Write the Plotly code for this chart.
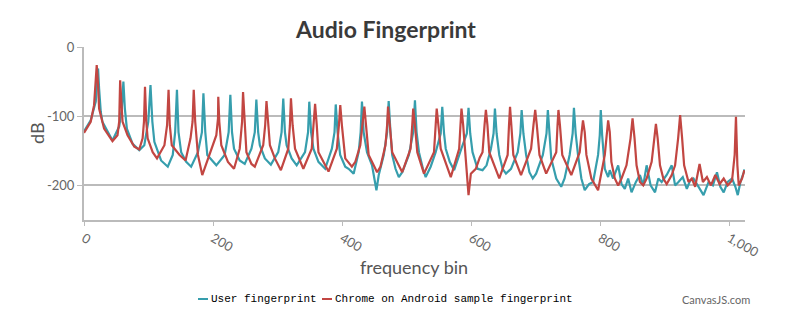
import plotly.graph_objects as go

# ---- data (frequency bin, dB) ----
user_bin = [0, 10.4, 18.2, 20.2, 21.8, 23.4, 26, 28.5, 38.9, 44.1, 54.5, 58.6, 61, 63.3, 66.4, 75.3, 85.6, 93.4,
            99.6, 103, 105.9, 109, 119.4, 129.8, 137.5, 141.2, 144, 146.4, 150.5, 158.3, 166, 176.5, 182.7, 185,
            187.9, 191, 205, 217.9, 224.1, 226.7, 229.3, 232.4, 241.2, 249, 259.4, 264.6, 267, 269.8, 272.4,
            280.2, 289.5, 300.9, 306.1, 308.7, 311.3, 313.9, 321.7, 329.5, 342.4, 347.1, 349, 351.8, 355.4,
            363.2, 373.6, 384, 388.1, 390, 392.8, 396.9, 404.7, 409.9, 417.7, 425.5, 428.6, 430.6, 433.2, 438.4,
            446.2, 450.4, 453, 456.6, 464.4, 469.6, 472, 474.8, 477.4, 482.6, 487.7, 493, 503.3, 510, 512.7,
            515.2, 518.9, 525.1, 529.3, 537, 544.8, 552.6, 555, 557.8, 560.4, 566.6, 573.4, 586.4, 593.1, 595.7,
            598.3, 601.9, 609.7, 617.4, 623.6, 630.4, 634.5, 636.6, 639.2, 643.3, 648.5, 653.7, 661.5, 671.9,
            676, 678, 680.7, 684.9, 690, 695.2, 700.4, 710.8, 716.5, 718.6, 721.2, 723.8, 731.6, 739.3, 744.5,
            752.3, 757, 759, 761.7, 765.3, 770.5, 775.7, 782.4, 788.7, 796.4, 799, 800.6, 802.7, 806.8, 812,
            814.5, 819.7, 827.5, 832.7, 837.8, 843, 848.2, 855, 861.2, 866.4, 871.6, 877.8, 884.6, 889.7, 894.9,
            902.7, 910.5, 915.7, 920.9, 927.6, 933.9, 939, 944.2, 952, 959.8, 967.6, 974.3, 980.6, 985.8, 991,
            997.2, 1003.9, 1009.1, 1012.8, 1016.9, 1022.1, 1023]
user_db = [-122, -106, -79, -50, -31, -60, -94, -108, -127.5, -135, -115, -89, -50, -89, -118, -140, -149, -142,
           -108, -55, -108, -137, -164, -173, -156, -123, -62, -123, -152, -166, -173, -152, -123, -67,
           -123, -156, -171, -156, -123, -69, -123, -147, -164, -169, -147, -123, -76, -123, -142,
           -161, -170, -152, -123, -74.5, -123, -142, -161, -171, -152, -123, -79, -123, -147,
           -166, -176, -147, -123, -83, -123, -156, -173, -176, -183, -152, -123, -79, -123, -152,
           -171, -190, -207, -185, -156, -123, -78, -123, -156, -176, -188, -181, -156, -123, -77,
           -123, -152, -176, -188, -173, -152, -125, -86.5, -125, -147, -166, -178, -142, -125, -88,
           -125, -152, -176, -178, -171, -147, -125, -89, -125, -156, -176, -183, -176, -152,
           -125, -91, -125, -156, -181, -190, -183, -156, -125, -91, -125, -161, -190, -202, -190,
           -156, -125, -88, -125, -156, -190, -207, -198, -195, -156, -127.5, -91, -127.5, -176, -188,
           -178, -190, -171, -198, -205, -190, -210, -195, -185, -200, -171, -200, -210, -190, -195,
           -185, -171, -200, -195, -188, -205, -193, -190, -202, -214, -195, -200, -181, -202, -210,
           -195, -190, -202, -214, -195, -181, -177]

chrome_bin = [0, 10.4, 15.6, 18.2, 19.7, 21.8, 23.4, 31.1, 44.1, 51.9, 54.5, 56, 58.1, 59.7, 67.5, 77.9, 85.6,
              90.8, 92.9, 94.5, 96.5, 98.6, 106.4, 113.1, 124.6, 128.7, 131, 132.9, 136, 148, 157.3, 165, 168.2,
              170, 172.3, 176.5, 183.2, 194.6, 205, 207.6, 208, 209.6, 212.7, 223, 232.4, 241.2, 244.9, 246.4,
              249, 251.6, 259.4, 264.6, 277.6, 280.7, 282.7, 285.3, 288, 295.7, 305, 316.5, 319, 320.6, 323.2,
              326.9, 339.8, 352.8, 356, 358, 360.6, 363.2, 378.8, 391.7, 394.9, 397, 399.5, 404.7, 415, 420.3,
              428, 431.7, 434.3, 436.9, 441, 448.8, 454, 459.2, 467, 469.6, 471, 473.7, 477.4, 493, 505.9, 508.5,
              510, 512.7, 516.3, 526.7, 542.2, 544.8, 546.4, 549, 552.6, 568.2, 581.2, 583.2, 584.8, 587.4,
              590.5, 595.7, 599.3, 607, 613, 617.4, 620.5, 622.6, 625, 627.8, 643.3, 656.3, 658.4, 660, 662,
              665.1, 677, 692.6, 696.3, 699, 701.5, 705.6, 716, 731.6, 733.6, 735, 737.3, 740.9, 754.9, 767.9,
              771, 773, 775.7, 778.3, 786, 796.4, 806.8, 810, 812, 814.5, 817, 822.3, 827.5, 832.7, 840.4,
              846.7, 849.8, 852.9, 856, 861.2, 866.4, 871.6, 879.4, 883.5, 886, 888.7, 892.3, 897.5, 902.7,
              910.5, 915.7, 920.4, 923.5, 926.6, 929.7, 936.5, 941.6, 946.8, 953.6, 958.8, 965, 971.2, 978,
              984.7, 991, 997.2, 1003.9, 1008, 1010, 1012.2, 1014.3, 1019.5, 1023]
chrome_db = [-124, -108, -84, -41, -26, -55, -89, -118, -136, -127.5, -108, -48, -84, -108, -127.5, -144, -148,
             -132, -108, -57.5, -108, -132, -152, -161, -142, -113, -62, -113, -142, -156, -164, -132, -108,
             -62, -108, -156, -185, -156, -127.5, -103, -72, -108, -142, -166, -176, -147, -108, -65,
             -108, -152, -169, -173, -142, -113, -78, -113, -142, -161, -178, -147, -113, -74, -113,
             -147, -176, -147, -113, -82, -113, -152, -180, -147, -113, -84, -113, -161, -173, -166,
             -142, -113, -86, -113, -156, -171, -181, -173, -142, -113, -86, -113, -152, -181, -147, -113,
             -89, -113, -152, -183, -152, -113, -89, -113, -147, -188, -147, -113, -89, -113,
             -156, -214, -183, -176, -160, -152, -113, -91, -113, -152, -190, -156, -113, -86.5, -113,
             -156, -185, -147, -113, -91, -113, -156, -183, -152, -113, -91, -113, -156, -185, -152,
             -123, -106, -123, -156, -190, -207, -156, -123, -106, -123, -166, -190, -200, -190, -171,
             -132, -103, -132, -171, -195, -200, -190, -166, -132, -111, -132, -171, -190, -198,
             -185, -171, -132, -98.5, -132, -171, -195, -190, -202, -169, -195, -188, -200, -185,
             -198, -190, -200, -193, -156, -101, -171, -200, -190, -178]

x_tickvals = [0, 200, 400, 600, 800, 1000]
x_ticktext = ["0", "200", "400", "600", "800", "1,000"]
y_tickvals = [0, -100, -200]
y_ticktext = ["0", "-100", "-200"]

TEAL = "#369EAD"
RED = "#C24642"
GRID = "#BBBBBB"

fig = go.Figure()
fig.add_trace(go.Scatter(x=user_bin, y=user_db, mode="lines", name="User fingerprint",
                         line=dict(color=TEAL, width=2.2), showlegend=False))
fig.add_trace(go.Scatter(x=chrome_bin, y=chrome_db, mode="lines", name="Chrome on Android sample fingerprint",
                         line=dict(color=RED, width=2.2), showlegend=False))

W, H = 803, 321
L, R, T, B = 84, 58, 47, 101
pw, ph = W - L - R, H - T - B

def px2paper(x, y):
    return (x - L) / pw, (H - B - y) / ph

shapes = []
annotations = []
legend_font = dict(family="Liberation Mono, Courier New, monospace", size=11, color="#000000")
for (x0, x1, tx, label, col) in [(198, 208, 209, "User fingerprint", TEAL),
                                 (322, 332, 333, "Chrome on Android sample fingerprint", RED)]:
    a0, yy = px2paper(x0, 299)
    a1, _ = px2paper(x1, 299)
    shapes.append(dict(type="line", xref="paper", yref="paper", x0=a0, x1=a1, y0=yy, y1=yy,
                       line=dict(color=col, width=2)))
    ax, _ = px2paper(tx, 299)
    annotations.append(dict(xref="paper", yref="paper", x=ax, y=yy, text=label, showarrow=False,
                            xanchor="left", yanchor="middle", font=legend_font))

cx, cy = px2paper(752, 299)
annotations.append(dict(xref="paper", yref="paper", x=cx, y=cy, text="CanvasJS.com", showarrow=False,
                        xanchor="right", yanchor="middle",
                        font=dict(family="Lato, Open Sans, sans-serif", size=11, color="#666666")))

# axis titles placed at the reference positions
tx_, ty_ = px2paper(414, 267)
annotations.append(dict(xref="paper", yref="paper", x=tx_, y=ty_, text="frequency bin", showarrow=False,
                        xanchor="center", yanchor="middle",
                        font=dict(family="Lato, Open Sans, sans-serif", size=18, color="#555555")))
dx_, dy_ = px2paper(37, 133)
annotations.append(dict(xref="paper", yref="paper", x=dx_, y=dy_, text="dB", showarrow=False, textangle=-90,
                        xanchor="center", yanchor="middle",
                        font=dict(family="Lato, Open Sans, sans-serif", size=18, color="#555555")))

fig.update_layout(
    width=W, height=H,
    margin=dict(l=L, r=R, t=T, b=B, pad=0),
    paper_bgcolor="white", plot_bgcolor="white",
    title=dict(text="<b>Audio Fingerprint</b>", x=386 / W, xanchor="center", y=1 - 30 / H, yanchor="middle",
               font=dict(family="Lato, Open Sans, sans-serif", size=23, color="#3A3A3A")),
    shapes=shapes, annotations=annotations,
    xaxis=dict(range=[0, 1024], tickvals=x_tickvals, ticktext=x_ticktext, tickangle=30,
               showgrid=False, zeroline=False, showline=True, linecolor=GRID, linewidth=2,
               ticks="outside", ticklen=4, tickcolor=GRID, tickwidth=1,
               tickfont=dict(family="Lato, Open Sans, sans-serif", size=13, color="#666666")),
    yaxis=dict(range=[-250, 0], tickvals=y_tickvals, ticktext=y_ticktext,
               showgrid=True, gridcolor=GRID, gridwidth=2, zeroline=False,
               showline=True, linecolor=GRID, linewidth=2,
               ticks="outside", ticklen=5, tickcolor=GRID, tickwidth=1,
               tickfont=dict(family="Lato, Open Sans, sans-serif", size=13, color="#666666")),
)

fig.write_html("out.html")
